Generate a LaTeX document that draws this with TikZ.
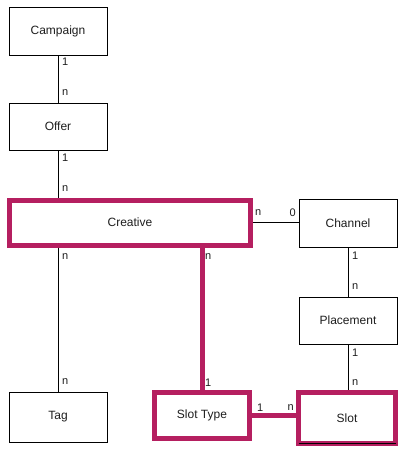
\documentclass[tikz,border=0pt]{standalone}
\usepackage{fontspec}
\setmainfont{Liberation Sans}
\definecolor{mag}{RGB}{181,31,96}
\definecolor{txt}{RGB}{30,30,30}
\begin{document}
\begin{tikzpicture}[x=1pt,y=-1pt,
  ent/.style={draw=black,line width=1pt,fill=white,inner sep=0pt,minimum width=98pt,minimum height=48pt,font=\fontsize{12}{14}\selectfont,text=txt},
  hent/.style={draw=mag,line width=5pt,fill=white,inner sep=0pt,font=\fontsize{12}{14}\selectfont,text=txt},
  rel/.style={draw=black,line width=1pt},
  hrel/.style={draw=mag,line width=5pt},
  card/.style={inner sep=0pt,font=\fontsize{11}{13}\selectfont,text=txt}]
\useasboundingbox (0,0) rectangle (409,451);
\fill[white] (0,0) rectangle (409,451);
% entities
\node[ent] (campaign) at (58,31) {Campaign};
\node[ent,minimum height=47pt] (offer) at (58,126.5) {Offer};
\node[hent,minimum width=241pt,minimum height=45pt] (creative) at (130,222.5) {Creative};
\node[ent] (channel) at (348,223) {Channel};
\node[ent,minimum height=47pt] (placement) at (348,320.5) {Placement};
\node[ent,minimum height=50pt] (tag) at (58,417) {Tag};
\node[hent,minimum width=95pt,minimum height=46pt] (slottype) at (202,415.5) {Slot Type};
\node[hent,minimum width=97pt,minimum height=51pt] (slot) at (347,418) {Slot};
\draw[black,line width=1pt] ([shift={(2.5,-2.5)}]slot.south west) -- ([shift={(-2.5,-2.5)}]slot.south east);
% connectors
\draw[rel] (campaign.south) -- (offer.north);
\draw[rel] (offer.south) -- (offer.south |- creative.north);
\draw[rel] (tag.north |- creative.south) -- (tag.north);
\draw[rel] (creative.east) -- (channel.west |- creative.east);
\draw[rel] (channel.south) -- (placement.north);
\draw[rel] (placement.south) -- (placement.south |- slot.north);
\draw[hrel] (slottype.north |- creative.south) -- (slottype.north);
\draw[hrel] (slottype.east) -- (slot.west |- slottype.east);
% cardinalities
\node[card,anchor=west] (c1) at (62,62) {1};
\node[card,anchor=west] (c2) at (62,93) {n};
\node[card,anchor=west] (c3) at (62,158) {1};
\node[card,anchor=west] (c4) at (62,189) {n};
\node[card,anchor=west] (c5) at (62,257) {n};
\node[card,anchor=west] (c6) at (62,382) {n};
\node[card,anchor=west] (c7) at (205,257) {n};
\node[card,anchor=west] (c8) at (205,383) {1};
\node[card,anchor=west] (c9) at (255,213) {n};
\node[card,anchor=east] (c10) at (296,213) {0};
\node[card,anchor=west] (c11) at (352,256) {1};
\node[card,anchor=west] (c12) at (352,287) {n};
\node[card,anchor=west] (c13) at (352,353) {1};
\node[card,anchor=west] (c14) at (352,383) {n};
\node[card,anchor=west] (c15) at (257,408) {1};
\node[card,anchor=east] (c16) at (294,408) {n};
\end{tikzpicture}
\end{document}
